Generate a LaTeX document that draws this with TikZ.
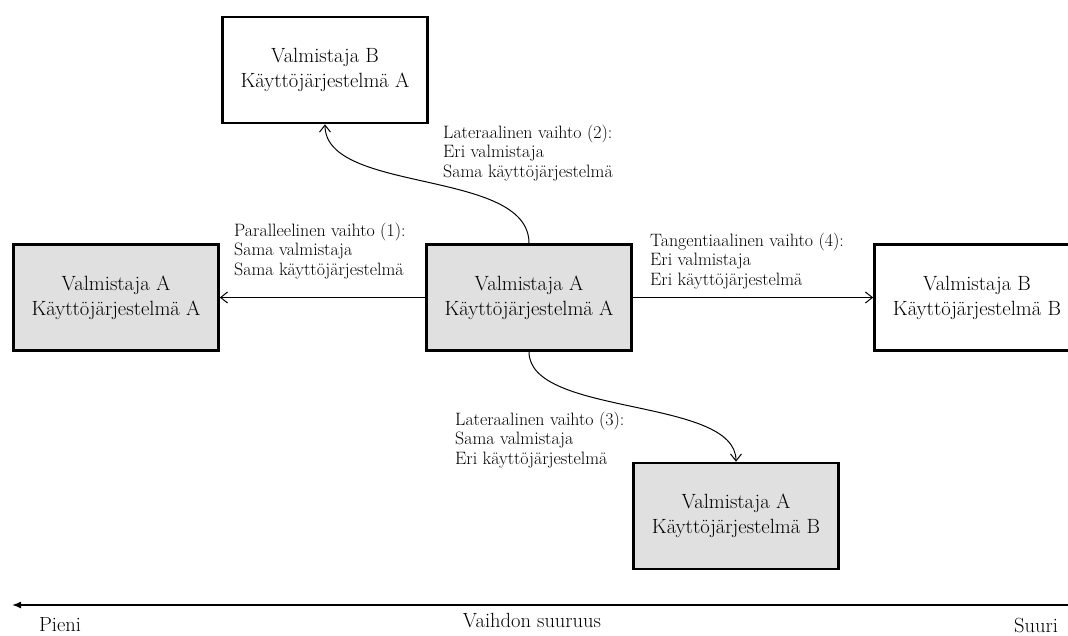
\documentclass[tikz,border=0pt]{standalone}
\usepackage{fontspec}
\usetikzlibrary{arrows.meta}
\definecolor{boxgrey}{RGB}{224,224,224}
\begin{document}
\begin{tikzpicture}[x=1pt,y=-1pt,
  box/.style={draw, line width=2.6pt, minimum width=205pt, minimum height=106pt,
    align=center, inner sep=0pt, font=\fontsize{20.6}{25}\selectfont},
  greybox/.style={box, fill=boxgrey},
  whitebox/.style={box, fill=white},
  note/.style={align=left, anchor=west, inner sep=0pt,
    font=\fontsize{17.9}{19.5}\selectfont},
  link/.style={-{Straight Barb[length=7pt,width=11pt]}, line width=1pt},
  scale label/.style={inner sep=0pt, font=\fontsize{20.5}{22}\selectfont}
]
\clip (0,0) rectangle (1068,635);
\fill[white] (0,0) rectangle (1068,635);

% systems
\node[whitebox] (vbka)   at (325,70)    {Valmistaja B\\Käyttöjärjestelmä A};
\node[greybox]  (vaka)   at (116,297.5) {Valmistaja A\\Käyttöjärjestelmä A};
\node[greybox]  (origin) at (529,297.5) {Valmistaja A\\Käyttöjärjestelmä A};
\node[whitebox] (vbkb)   at (977,297.5) {Valmistaja B\\Käyttöjärjestelmä B};
\node[greybox]  (vakb)   at (736,516)   {Valmistaja A\\Käyttöjärjestelmä B};

% changes
\draw[link] (origin.west) -- (vaka.east);
\draw[link] (origin.east) -- (vbkb.west);
\draw[link] (origin.north) .. controls +(0,-75) and +(0,70) .. (vbka.south);
\draw[link] (origin.south) .. controls +(0,65) and +(0,-65) .. (vakb.north);

% change descriptions
\node[note] (n1) at (234,251) {Paralleelinen vaihto (1):\\Sama valmistaja\\Sama käyttöjärjestelmä};
\node[note] (n2) at (443,153) {Lateraalinen vaihto (2):\\Eri valmistaja\\Sama käyttöjärjestelmä};
\node[note] (n3) at (455,440) {Lateraalinen vaihto (3):\\Sama valmistaja\\Eri käyttöjärjestelmä};
\node[note] (n4) at (650,261) {Tangentiaalinen vaihto (4):\\Eri valmistaja\\Eri käyttöjärjestelmä};

% magnitude axis
\coordinate (axisL) at (12,605);
\coordinate (axisR) at (1068,605);
\draw[line width=1.5pt, -{Latex[length=9pt,width=7pt]}] (axisR) -- (axisL);
\node[scale label] (small) at (60,625)  {Pieni};
\node[scale label] (title) at (532,621) {Vaihdon suuruus};
\node[scale label] (large) at (1036,625.5) {Suuri};
\end{tikzpicture}
\end{document}
